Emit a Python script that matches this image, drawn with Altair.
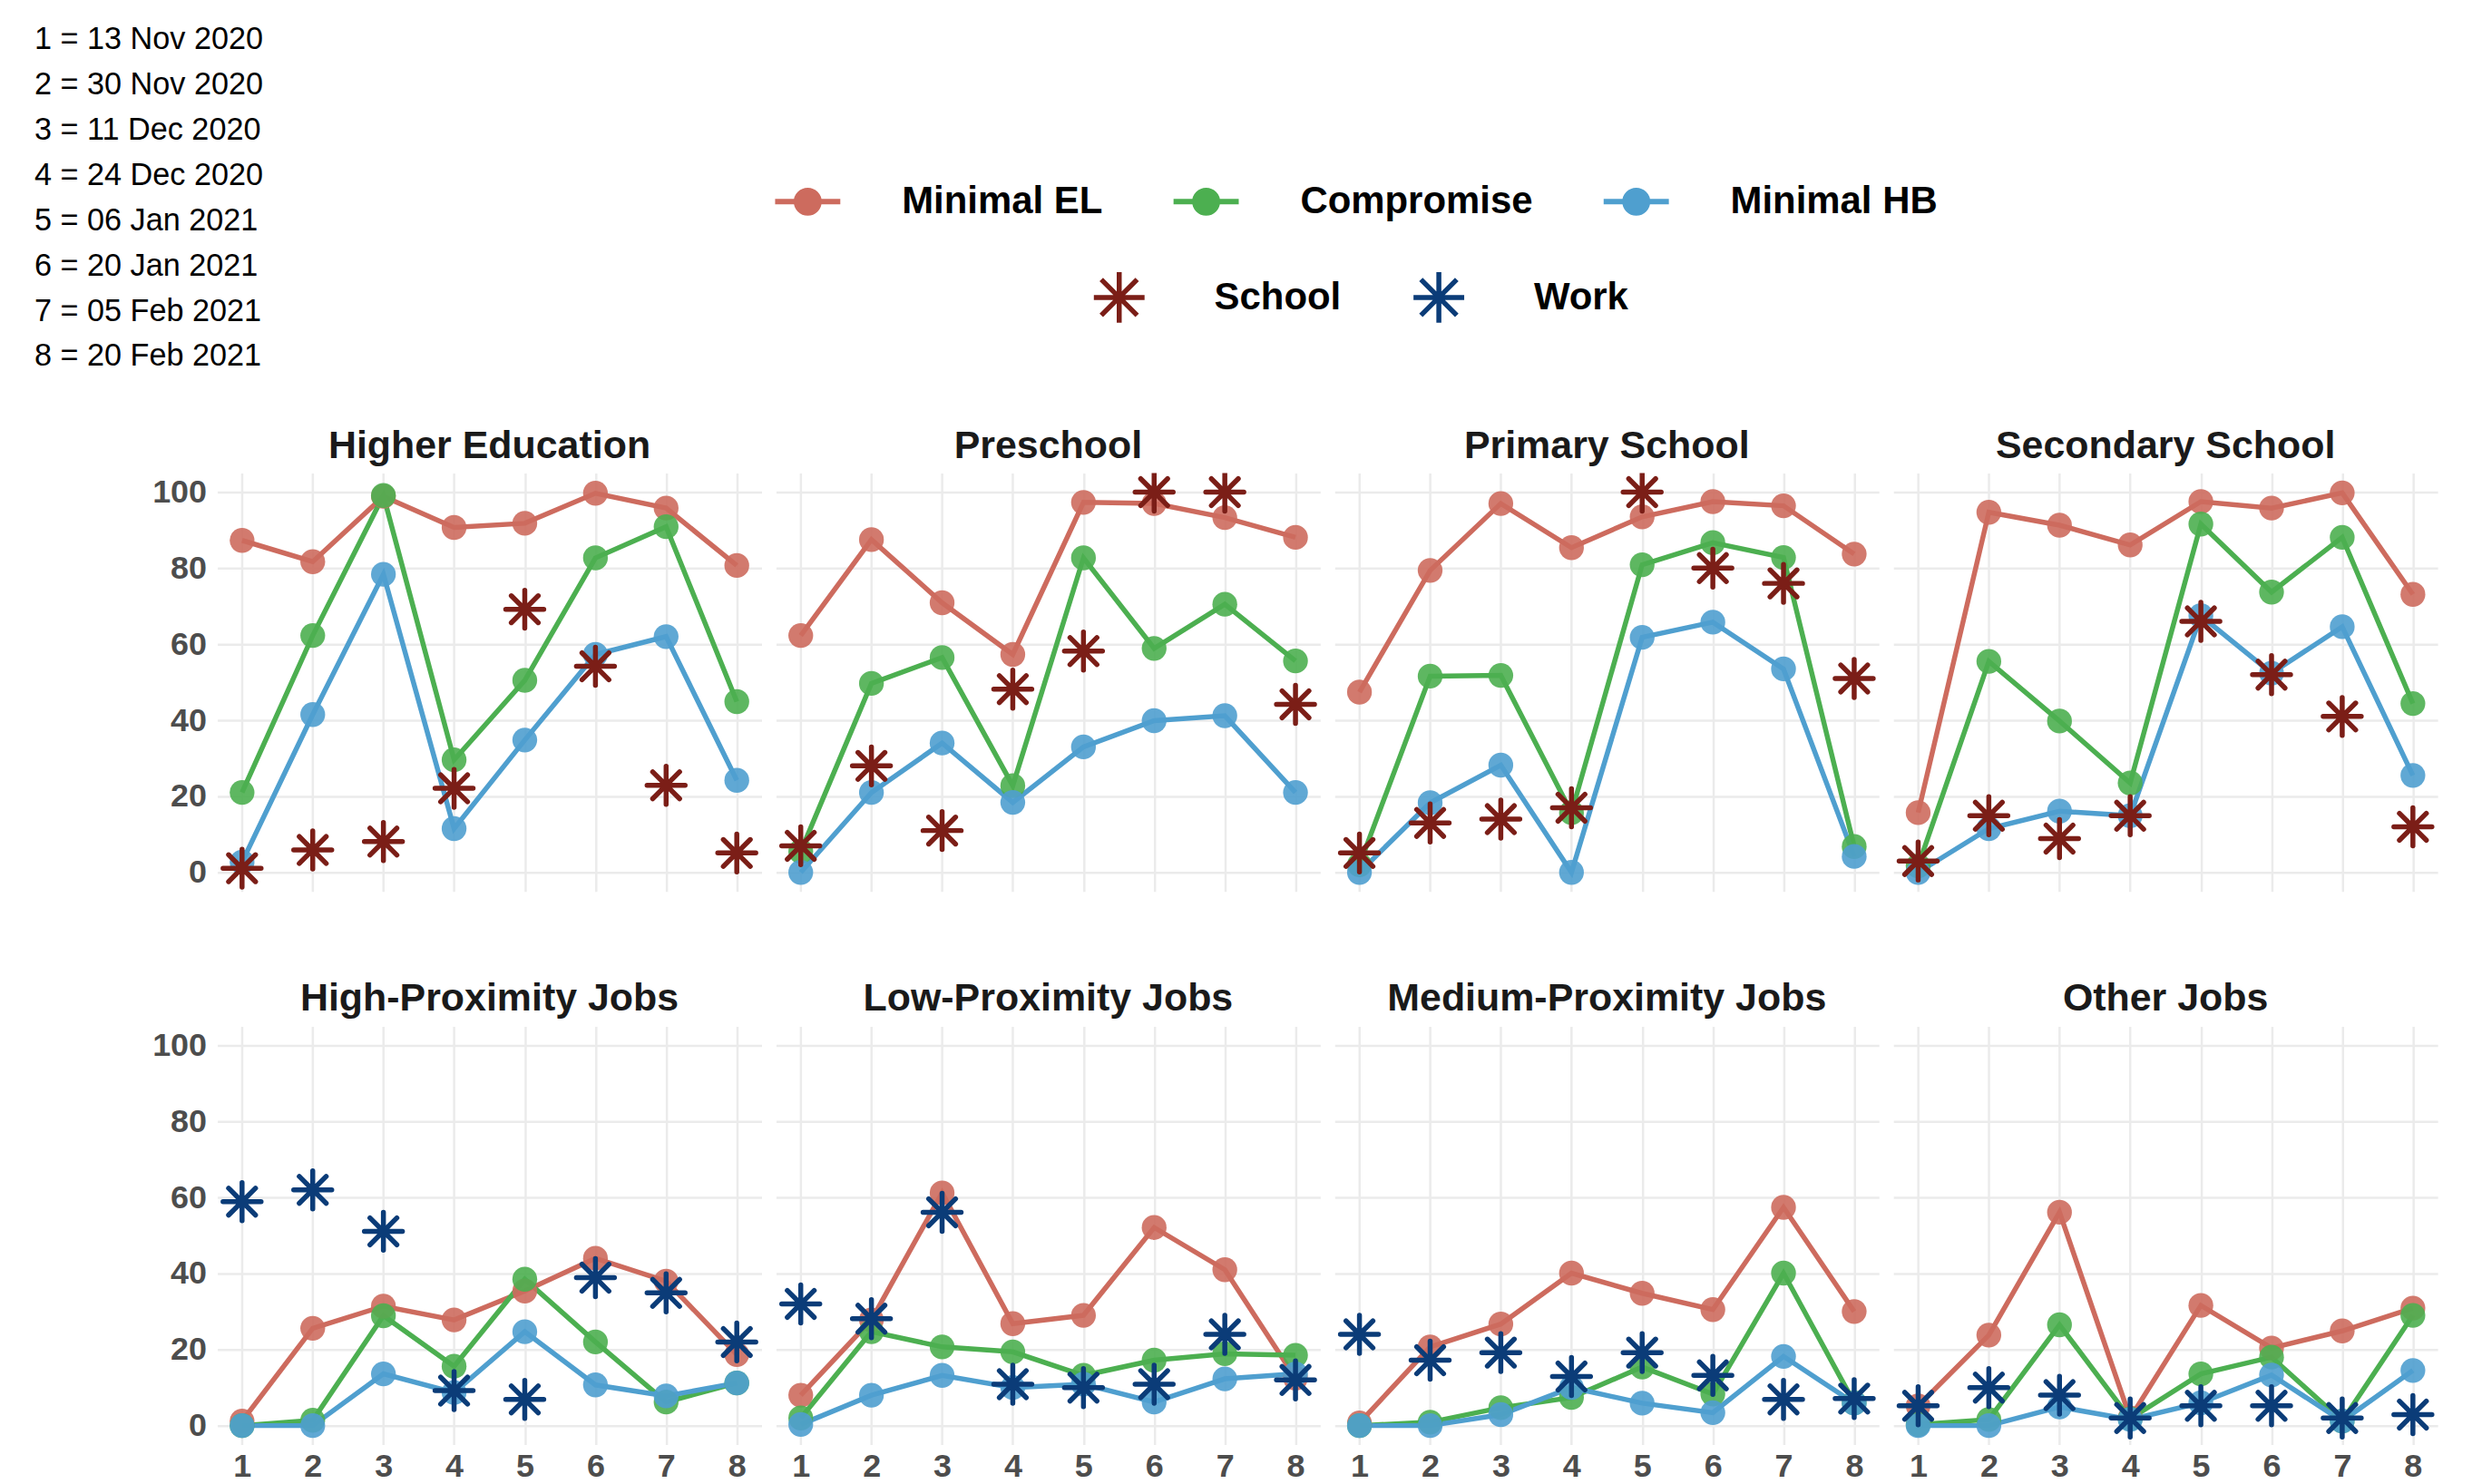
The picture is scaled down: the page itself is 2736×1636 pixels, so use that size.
import altair as alt
import pandas as pd

# Survey waves and their dates
days = [1, 2, 3, 4, 5, 6, 7, 8]
date_labels = [
    "1 = 13 Nov 2020",
    "2 = 30 Nov 2020",
    "3 = 11 Dec 2020",
    "4 = 24 Dec 2020",
    "5 = 06 Jan 2021",
    "6 = 20 Jan 2021",
    "7 = 05 Feb 2021",
    "8 = 20 Feb 2021",
]

panels = [
    "Higher Education", "Preschool", "Primary School", "Secondary School",
    "High-Proximity Jobs", "Low-Proximity Jobs", "Medium-Proximity Jobs", "Other Jobs",
]
scenarios = ["Minimal EL", "Compromise", "Minimal HB"]
settings = ["School", "Work"]
scenario_colors = ["#CD6B5E", "#4CAF50", "#4F9FCF"]
setting_colors = ["#7B1E17", "#0B3C78"]

# Higher Education
higher_ed_el = [87.3, 81.7, 98.9, 90.7, 91.8, 99.7, 95.8, 80.7]
higher_ed_comp = [21.0, 62.3, 99.1, 29.6, 50.5, 82.7, 90.9, 44.9]
higher_ed_hb = [2.7, 41.5, 78.4, 11.5, 34.8, 57.3, 62.0, 24.2]
higher_ed_obs = [1.1, 5.9, 8.1, 22.1, 69.2, 54.2, 22.9, 5.1]

# Preschool
preschool_el = [62.3, 87.5, 70.9, 57.3, 97.3, 97.0, 93.3, 88.1]
preschool_comp = [5.5, 49.7, 56.5, 22.8, 82.7, 58.9, 70.5, 55.6]
preschool_hb = [0.0, 21.0, 34.0, 18.4, 33.0, 39.9, 41.2, 21.0]
preschool_obs = [7.0, 28.0, 11.0, 48.2, 58.2, 100.0, 100.0, 44.2]

# Primary School
primary_el = [47.4, 79.4, 97.0, 85.4, 93.5, 97.5, 96.4, 83.7]
primary_comp = [2.0, 51.6, 51.8, 15.7, 80.9, 86.7, 82.8, 6.8]
primary_hb = [0.0, 18.3, 28.2, 0.0, 61.8, 65.8, 53.5, 4.2]
primary_obs = [5.1, 13.0, 14.0, 17.0, 100.0, 80.0, 76.0, 51.0]

# Secondary School
secondary_el = [15.7, 94.7, 91.3, 86.1, 97.5, 95.8, 99.8, 73.1]
secondary_comp = [1.7, 55.5, 39.8, 23.5, 91.6, 73.7, 88.1, 44.4]
secondary_hb = [0.0, 11.5, 16.1, 14.9, 67.5, 52.4, 64.6, 25.5]
secondary_obs = [3.0, 14.9, 8.9, 14.9, 66.0, 52.0, 41.0, 12.0]

# High-Proximity Jobs
high_prox_el = [1.2, 25.6, 31.4, 27.8, 35.4, 44.0, 38.0, 18.7]
high_prox_comp = [0.0, 1.4, 28.9, 15.6, 38.5, 22.0, 6.2, 11.2]
high_prox_hb = [0.0, 0.0, 13.6, 8.7, 24.7, 10.7, 7.8, 11.2]
high_prox_obs = [58.9, 62.0, 51.1, 9.2, 6.9, 38.9, 34.9, 22.0]

# Low-Proximity Jobs
low_prox_el = [8.0, 27.8, 61.2, 26.8, 29.0, 52.1, 41.0, 12.5]
low_prox_comp = [2.0, 24.7, 20.7, 19.4, 13.2, 17.2, 18.9, 18.5]
low_prox_hb = [0.3, 8.0, 13.2, 10.0, 10.9, 6.2, 12.3, 13.6]
low_prox_obs = [32.0, 28.1, 56.1, 10.9, 10.0, 10.9, 24.0, 12.0]

# Medium-Proximity Jobs
med_prox_el = [0.7, 20.7, 26.7, 40.1, 34.8, 30.5, 57.4, 30.0]
med_prox_comp = [0.0, 0.9, 4.7, 7.4, 15.4, 8.3, 40.1, 6.0]
med_prox_hb = [0.0, 0.0, 2.9, 10.0, 5.9, 3.4, 18.2, 5.9]
med_prox_obs = [24.0, 17.2, 19.2, 12.9, 19.2, 13.2, 6.9, 7.1]

# Other Jobs
other_el = [5.2, 23.8, 56.1, 2.0, 31.6, 20.4, 24.9, 30.9]
other_comp = [0.3, 1.6, 26.5, 1.8, 13.6, 18.0, 1.2, 29.0]
other_hb = [0.0, 0.0, 4.9, 1.6, 6.0, 13.3, 1.2, 14.5]
other_obs = [5.2, 10.0, 8.0, 2.0, 5.2, 5.2, 2.0, 2.9]

panel_series = [
    ("Higher Education", higher_ed_el, higher_ed_comp, higher_ed_hb, higher_ed_obs, "School"),
    ("Preschool", preschool_el, preschool_comp, preschool_hb, preschool_obs, "School"),
    ("Primary School", primary_el, primary_comp, primary_hb, primary_obs, "School"),
    ("Secondary School", secondary_el, secondary_comp, secondary_hb, secondary_obs, "School"),
    ("High-Proximity Jobs", high_prox_el, high_prox_comp, high_prox_hb, high_prox_obs, "Work"),
    ("Low-Proximity Jobs", low_prox_el, low_prox_comp, low_prox_hb, low_prox_obs, "Work"),
    ("Medium-Proximity Jobs", med_prox_el, med_prox_comp, med_prox_hb, med_prox_obs, "Work"),
    ("Other Jobs", other_el, other_comp, other_hb, other_obs, "Work"),
]

records = []
for panel, el, comp, hb, obs, setting in panel_series:
    for name, vals in zip(scenarios, (el, comp, hb)):
        for d, v in zip(days, vals):
            records.append({"panel": panel, "day": d, "value": v, "kind": "scenario", "group": name})
    for d, v in zip(days, obs):
        records.append({"panel": panel, "day": d, "value": v, "kind": "observed", "group": setting})
df = pd.DataFrame(records)

FONT = "Liberation Sans"

# Symbol paths: an eight-armed asterisk, and a line with a solid dot drawn from stroked rings
STAR = "M-1,0L1,0M0,-1L0,1M-0.707,-0.707L0.707,0.707M-0.707,0.707L0.707,-0.707"
ring_radii = [0.347, 0.264, 0.181, 0.097, 0.03]
LINE_DOT = "M-1,0L1,0" + "".join(
    f"M{-r},0A{r},{r},0,1,1,{r},0A{r},{r},0,1,1,{-r},0Z" for r in ring_radii
)

x_enc = alt.X(
    "day:Q",
    scale=alt.Scale(domain=[0.65, 8.35], nice=False, zero=False),
    axis=alt.Axis(values=days, title=None, format="d", labelPadding=7),
)
y_enc = alt.Y(
    "value:Q",
    scale=alt.Scale(domain=[-5, 105], nice=False, zero=False),
    axis=alt.Axis(values=[0, 20, 40, 60, 80, 100], title=None, labelPadding=12),
)

scenario_legend = alt.Legend(
    title=None, orient="none", direction="horizontal", legendX=613, legendY=-339,
    symbolType=LINE_DOT, symbolSize=5184, symbolStrokeWidth=6,
    labelFont=FONT, labelFontSize=42, labelFontWeight="bold", labelColor="black",
    labelOffset=65, columnPadding=66, labelLimit=600, padding=0,
)
setting_legend = alt.Legend(
    title=None, orient="none", direction="horizontal", legendX=965, legendY=-225,
    symbolType=STAR, symbolSize=3136, symbolStrokeWidth=5.5,
    labelFont=FONT, labelFontSize=42, labelFontWeight="bold", labelColor="black",
    labelOffset=74, columnPadding=68, labelLimit=600, padding=0,
)

base = alt.Chart(df)

lines = base.transform_filter("datum.kind == 'scenario'").mark_line(strokeWidth=5.5).encode(
    x=x_enc, y=y_enc,
    stroke=alt.Stroke("group:N", scale=alt.Scale(domain=scenarios, range=scenario_colors),
                      legend=scenario_legend),
    order=alt.Order("day:Q"),
)

points = base.transform_filter("datum.kind == 'scenario'").mark_point(
    filled=True, size=750, opacity=0.9, shape="circle", strokeWidth=0
).encode(
    x=x_enc, y=y_enc,
    fill=alt.Fill("group:N", scale=alt.Scale(domain=scenarios, range=scenario_colors), legend=None),
)

stars = base.transform_filter("datum.kind == 'observed'").mark_point(
    shape=STAR, filled=False, size=1764, strokeWidth=5.5, opacity=1, strokeCap="round", clip=True
).encode(
    x=x_enc, y=y_enc,
    color=alt.Color("group:N", scale=alt.Scale(domain=settings, range=setting_colors),
                    legend=setting_legend),
)

chart = alt.layer(lines, points, stars).properties(width=601, height=462).facet(
    facet=alt.Facet(
        "panel:N", sort=panels, title=None,
        header=alt.Header(labelFont=FONT, labelFontSize=43, labelFontWeight="bold",
                          labelColor="#1A1A1A", labelPadding=8),
    ),
    columns=4,
    spacing={"row": 149, "column": 16},
    bounds="flush",
).properties(
    title=alt.TitleParams(
        text=date_labels, anchor="start", frame="group", fontSize=34.3, fontWeight="normal",
        lineHeight=50, dx=-202, dy=238, color="black", font=FONT, offset=10,
    ),
    padding={"left": 38, "top": 25, "right": 49, "bottom": 6},
).configure(
    font=FONT, background="white"
).configure_view(
    stroke=None
).configure_axis(
    labelFont=FONT, labelFontSize=36, labelFontWeight="bold", labelColor="#4D4D4D",
    ticks=False, domain=False, grid=True, gridColor="#EBEBEB", gridWidth=2.5,
)

chart.save("out.html", embed_options={"renderer": "svg", "actions": False})
